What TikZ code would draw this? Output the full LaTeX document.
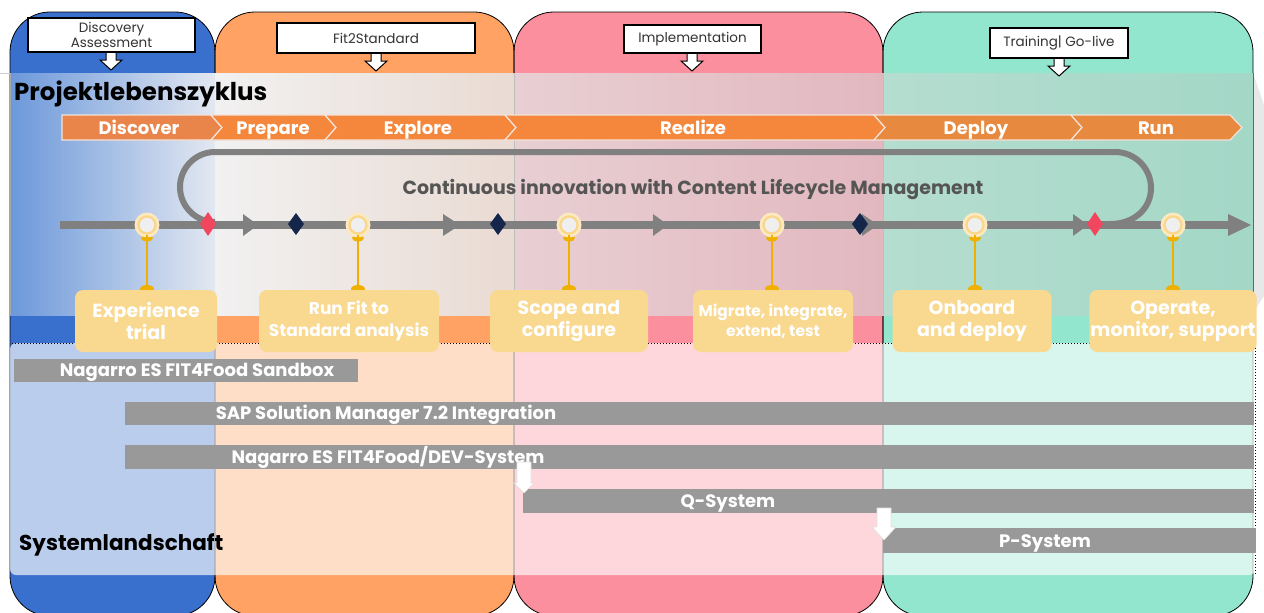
\documentclass[tikz,border=0pt]{standalone}
\usepackage{fontspec}
\setmainfont{Poppins}
\usetikzlibrary{calc}
\definecolor{colblue}{HTML}{3A70CD}
\definecolor{colorange}{HTML}{FFA264}
\definecolor{colpink}{HTML}{FB8F9D}
\definecolor{colteal}{HTML}{91E6CD}
\definecolor{bandBl}{HTML}{6C98DA}
\definecolor{bandBr}{HTML}{E3E8F1}
\definecolor{bandOl}{HTML}{F1F1F1}
\definecolor{bandOr}{HTML}{EADBD3}
\definecolor{bandPl}{HTML}{E8CFD3}
\definecolor{bandPr}{HTML}{E2B8BF}
\definecolor{bandTl}{HTML}{B5DDD0}
\definecolor{bandTr}{HTML}{A3D7C6}
\definecolor{chevA}{HTML}{E9854A}
\definecolor{chevB}{HTML}{F5873C}
\definecolor{chevC}{HTML}{E78A3F}
\definecolor{chevsep}{HTML}{F3E3DA}
\definecolor{linegrey}{HTML}{808080}
\definecolor{barsgrey}{HTML}{999999}
\definecolor{msyellow}{HTML}{F9D88F}
\definecolor{msgold}{HTML}{F0B000}
\definecolor{msring}{HTML}{FAD68A}
\definecolor{msglow}{HTML}{FCE9C0}
\definecolor{mscore}{HTML}{EFEFEF}
\definecolor{diared}{HTML}{F0475E}
\definecolor{dianavy}{HTML}{14264A}
\definecolor{hdrtext}{HTML}{333333}
\definecolor{looptext}{HTML}{555555}
\begin{document}
\begin{tikzpicture}[x=1pt,y=-1pt,
  hdrbox/.style={draw=black, line width=1.1, fill=white, text=hdrtext, align=center, inner sep=1,
    font=\fontsize{13.5}{15}\selectfont},
  hdrarrow/.style={fill=white, draw=black, line width=1},
  msbox/.style={fill=msyellow, rounded corners=8, text=white, align=center, minimum height=62, inner sep=1},
  mspin/.style={circle, fill=mscore, draw=msring, line width=2.2, minimum size=17, inner sep=0},
  stem/.style={draw=msgold, line width=2},
  sysbar/.style={fill=barsgrey, inner sep=0, anchor=north west},
  bartext/.style={text=white, font=\bfseries\fontsize{18}{20}\selectfont, inner sep=0, anchor=base},
  chevtext/.style={text=white, font=\bfseries\fontsize{18}{20}\selectfont, inner sep=0, anchor=base},
  chev/.style={draw=chevsep, line width=1.2},
  wharrow/.style={fill=white, draw=black!12, line width=0.6},
  coledge/.style={draw=black, line width=0.8, rounded corners=40},
  titletext/.style={font=\bfseries\fontsize{24.5}{27}\selectfont, text=black, anchor=west, inner sep=0}
]
\useasboundingbox (0,0) rectangle (1264,613);
\fill[white] (0,0) rectangle (1264,613);

% columns
\fill[colblue, rounded corners=40] (10,12) rectangle (215,616);
\fill[colorange, rounded corners=40] (215,12) rectangle (514,616);
\fill[colpink, rounded corners=40] (514,12) rectangle (883,616);
\fill[colteal, rounded corners=40] (883,12) rectangle (1253,616);
\draw[coledge] (10,12) rectangle (215,616);
\draw[coledge] (215,12) rectangle (514,616);
\draw[coledge] (514,12) rectangle (883,616);
\draw[coledge] (883,12) rectangle (1253,616);

% upper band
\shade[left color=bandBl, right color=bandBr] (10,73) rectangle (215,315);
\shade[left color=bandOl, right color=bandOr] (215,73) rectangle (514,315);
\shade[left color=bandPl, right color=bandPr] (514,73) rectangle (883,315);
\shade[left color=bandTl, right color=bandTr] (883,73) rectangle (1253,315);
\fill[black!9] (1253,73) -- (1264,105) -- (1264,296) -- (1253,313) -- cycle;
\draw[black!20, line width=0.6] (0,73) -- (10,73);
\draw[black!35, line width=0.7] (10,73) -- (10,315);
\draw[black!25, line width=0.7] (514,73) -- (514,315);
\draw[black!25, line width=0.7] (883,73) -- (883,315);
\draw[black!60, line width=0.8] (1253,73) -- (1253,315);

% lower overlay
\fill[white, fill opacity=0.65, rounded corners=6] (10,343) rectangle (1255,575);
\draw[black, dotted, line width=1] (12,343) -- (1255,343) -- (1255,575);

% header boxes
\coordinate (ha1) at (111,52);
\coordinate (ha2) at (376,53);
\coordinate (ha3) at (692,53);
\coordinate (ha4) at (1059,58);
\foreach \c in {ha1,ha2,ha3,ha4}{
  \filldraw[hdrarrow] ($(\c)+(-5,-3)$) -- ($(\c)+(5,-3)$) -- ($(\c)+(5,8)$) -- ($(\c)+(11,8)$)
     -- ($(\c)+(0,18)$) -- ($(\c)+(-11,8)$) -- ($(\c)+(-5,8)$) -- cycle;
}
\node[hdrbox, minimum width=167, minimum height=34, font=\fontsize{13.5}{14.5}\selectfont] (h1) at (111.5,35) {Discovery\\Assessment};
\node[hdrbox, minimum width=198, minimum height=30] (h2) at (376,38) {Fit2Standard};
\node[hdrbox, minimum width=137, minimum height=28] (h3) at (692.5,39) {Implementation};
\node[hdrbox, minimum width=138, minimum height=30] (h4) at (1059,43) {Training| Go-live};

% title
\node[titletext] (t1) at (14,94) {Projektlebenszyklus};

% chevrons
\filldraw[chev, fill=chevA] (62,115) -- (211,115) -- (222,127.5) -- (211,140) -- (62,140) -- cycle;
\filldraw[chev, fill=chevB] (211,115) -- (325,115) -- (336,127.5) -- (325,140) -- (211,140) -- (222,127.5) -- cycle;
\filldraw[chev, fill=chevB] (325,115) -- (505,115) -- (516,127.5) -- (505,140) -- (325,140) -- (336,127.5) -- cycle;
\filldraw[chev, fill=chevB] (505,115) -- (874,115) -- (885,127.5) -- (874,140) -- (505,140) -- (516,127.5) -- cycle;
\filldraw[chev, fill=chevC] (874,115) -- (1071,115) -- (1082,127.5) -- (1071,140) -- (874,140) -- (885,127.5) -- cycle;
\filldraw[chev, fill=chevC] (1071,115) -- (1230,115) -- (1242,127.5) -- (1230,140) -- (1071,140) -- (1082,127.5) -- cycle;
\node[chevtext] (c1) at (139,134.5) {Discover};
\node[chevtext] (c2) at (273,134.5) {Prepare};
\node[chevtext] (c3) at (418,134.5) {Explore};
\node[chevtext] (c4) at (693,134.5) {Realize};
\node[chevtext] (c5) at (976,134.5) {Deploy};
\node[chevtext] (c6) at (1156,134.5) {Run};

% loop
\draw[linegrey, line width=6] (215,222) .. controls (195.7,222) and (180,206.3) .. (180,187)
   .. controls (180,167.7) and (195.7,152) .. (215,152) -- (1115,152)
   .. controls (1134.9,152) and (1151,168.1) .. (1151,188)
   .. controls (1151,207.9) and (1134.9,224) .. (1110,224);
\node[font=\bfseries\fontsize{19}{21}\selectfont, text=looptext, inner sep=0, anchor=base] (lt) at (693,194)
   {Continuous innovation with Content Lifecycle Management};

% main timeline
\draw[linegrey, line width=8] (60,225) -- (1232,225);
\foreach \b/\t in {243/258, 443/460, 653/668, 862/878, 1073/1088, 1228/1251}{
  \fill[linegrey] (\b,214) -- (\t,225) -- (\b,236) -- cycle;
}
\foreach \x in {208,1095}{
  \fill[diared] (\x,212) -- (\x+8,224) -- (\x,236) -- (\x-8,224) -- cycle;
}
\foreach \x in {296,498,860}{
  \fill[dianavy] (\x,213) -- (\x+8,224) -- (\x,235) -- (\x-8,224) -- cycle;
}

% milestones
\foreach \x in {147,358,569,772,975,1173}{
  \fill[msgold] (\x,238) ellipse (6 and 3.5);
  \fill[msglow] (\x,225) circle (12.5);
  \fill[msgold] (\x,289) ellipse (7 and 4);
}
\node[mspin] (m1) at (147,225) {};
\node[mspin] (m2) at (358,225) {};
\node[mspin] (m3) at (569,225) {};
\node[mspin] (m4) at (772,225) {};
\node[mspin] (m5) at (975,225) {};
\node[mspin] (m6) at (1173,225) {};

\node[msbox, minimum width=142, font=\bfseries\fontsize{19}{22}\selectfont] (b1) at (146,321) {Experience\\trial};
\node[msbox, minimum width=180, font=\bfseries\fontsize{17}{22}\selectfont] (b2) at (349,321) {Run Fit to\\Standard analysis};
\node[msbox, minimum width=158, font=\bfseries\fontsize{19}{22}\selectfont] (b3) at (569,321) {Scope and\\configure};
\node[msbox, minimum width=160, font=\bfseries\fontsize{15.5}{20}\selectfont] (b4) at (773,321) {Migrate, integrate,\\extend, test};
\node[msbox, minimum width=159, font=\bfseries\fontsize{19}{22}\selectfont] (b5) at (972,321) {Onboard\\and deploy};
\node[msbox, minimum width=160, font=\bfseries\fontsize{19}{22}\selectfont] (b6) at (1173,321) {Operate,\\monitor, support};
\foreach \i in {1,...,6}{
  \draw[stem] (m\i) -- (m\i |- b\i.north);
}

% system bars
\node[sysbar, minimum width=344, minimum height=23] (s1) at (14,359) {};
\node[sysbar, minimum width=1129, minimum height=23] (s2) at (125,402) {};
\node[sysbar, minimum width=1129, minimum height=24] (s3) at (125,445) {};
\node[sysbar, minimum width=731, minimum height=24] (s4) at (523,489) {};
\node[sysbar, minimum width=373, minimum height=25] (s5) at (883,528) {};
\node[bartext] (st1) at (197,376.5) {Nagarro ES FIT4Food Sandbox};
\node[bartext] (st2) at (386,419.5) {SAP Solution Manager 7.2 Integration};
\node[bartext] (st3) at (388,463) {Nagarro ES FIT4Food/DEV-System};
\node[bartext] (st4) at (728,507) {Q-System};
\node[bartext] (st5) at (1045,547) {P-System};

\coordinate (wa1) at (524,462);
\coordinate (wa2) at (884,508);
\filldraw[wharrow] ($(wa1)+(-7,0)$) -- ($(wa1)+(7,0)$) -- ($(wa1)+(7,21)$) -- ($(wa1)+(10,21)$)
   -- ($(wa1)+(0,31)$) -- ($(wa1)+(-10,21)$) -- ($(wa1)+(-7,21)$) -- cycle;
\filldraw[wharrow] ($(wa2)+(-7,0)$) -- ($(wa2)+(7,0)$) -- ($(wa2)+(7,19)$) -- ($(wa2)+(12,19)$)
   -- ($(wa2)+(0,32)$) -- ($(wa2)+(-12,19)$) -- ($(wa2)+(-7,19)$) -- cycle;

\node[titletext, font=\bfseries\fontsize{21.5}{24}\selectfont] (t2) at (19,545) {Systemlandschaft};
\end{tikzpicture}
\end{document}
